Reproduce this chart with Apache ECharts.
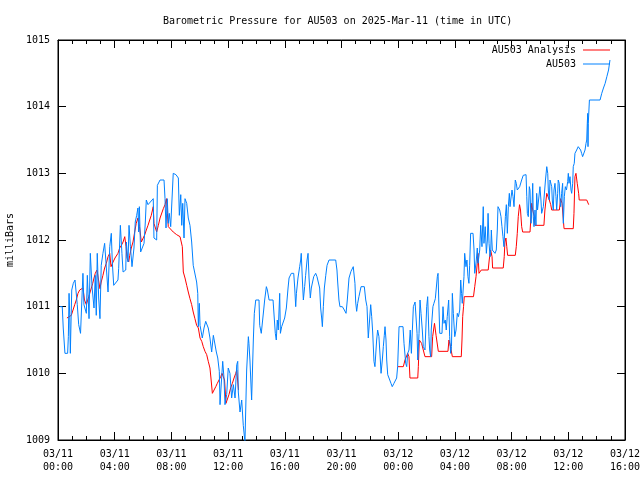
<!DOCTYPE html>
<html>
<head>
<meta charset="utf-8">
<script src="https://cdn.jsdelivr.net/npm/echarts@6/dist/echarts.min.js"></script>
<style>html,body{margin:0;padding:0;background:#fff}#c{width:640px;height:480px}</style>
</head>
<body>
<div id="c"></div>
<script>
// Hours since 2025-03-11 00:00 UTC
const xTickLabels = ['03/11\n00:00','03/11\n04:00','03/11\n08:00','03/11\n12:00','03/11\n16:00','03/11\n20:00','03/12\n00:00','03/12\n04:00','03/12\n08:00','03/12\n12:00','03/12\n16:00'];
const yTicks = [1009,1010,1011,1012,1013,1014,1015];

const blueHours = [0.14,0.30,0.37,0.49,0.68,0.73,0.78,0.83,0.87,0.97,1.08,1.20,1.29,1.36,1.46,1.59,1.76,1.83,2.00,2.07,2.19,2.28,2.40,2.54,2.63,2.70,2.77,2.87,2.96,3.05,3.17,3.29,3.41,3.53,3.65,3.76,3.83,3.93,4.23,4.28,4.40,4.51,4.59,4.78,4.82,4.94,5.01,5.11,5.22,5.36,5.45,5.55,5.64,5.69,5.74,5.83,5.95,6.07,6.16,6.23,6.35,6.49,6.72,6.77,6.96,7.01,7.20,7.48,7.55,7.62,7.71,7.78,7.85,7.95,8.13,8.32,8.49,8.56,8.66,8.73,8.80,8.89,8.96,9.08,9.19,9.31,9.43,9.54,9.78,9.86,9.90,9.97,10.02,10.09,10.18,10.30,10.42,10.51,10.60,10.72,10.84,10.96,11.08,11.17,11.27,11.38,11.43,11.50,11.62,11.71,11.78,11.90,12.01,12.13,12.25,12.37,12.49,12.61,12.68,12.72,12.84,12.96,13.07,13.19,13.31,13.43,13.47,13.54,13.66,13.78,13.85,13.95,14.18,14.23,14.34,14.51,14.58,14.70,14.77,14.89,15.17,15.33,15.40,15.47,15.54,15.64,15.69,15.78,15.99,16.11,16.23,16.30,16.46,16.63,16.70,16.77,16.82,16.93,17.05,17.12,17.16,17.24,17.31,17.40,17.47,17.57,17.64,17.71,17.80,17.87,18.04,18.18,18.27,18.46,18.53,18.60,18.65,18.72,18.79,18.89,18.98,19.12,19.59,19.68,19.73,19.82,19.89,20.06,20.20,20.32,20.41,20.53,20.67,20.83,20.90,20.95,21.00,21.07,21.14,21.23,21.38,21.61,21.71,21.80,21.89,21.96,22.06,22.13,22.20,22.29,22.36,22.48,22.55,22.64,22.74,22.79,22.88,22.95,23.02,23.07,23.14,23.19,23.26,23.35,23.49,23.58,23.70,23.77,23.89,23.96,24.06,24.34,24.41,24.53,24.60,24.67,24.76,24.85,24.93,24.97,25.07,25.19,25.28,25.33,25.38,25.47,25.54,25.61,25.70,25.77,25.89,26.01,26.08,26.17,26.22,26.29,26.33,26.45,26.52,26.62,26.69,26.76,26.81,26.86,26.93,27.09,27.16,27.23,27.32,27.39,27.46,27.56,27.63,27.70,27.76,27.82,27.89,27.99,28.08,28.17,28.25,28.34,28.41,28.47,28.52,28.60,28.64,28.69,28.78,28.85,28.92,28.99,29.04,29.11,29.28,29.35,29.40,29.51,29.58,29.63,29.75,29.82,29.91,30.00,30.05,30.14,30.22,30.29,30.34,30.41,30.48,30.53,30.57,30.64,30.69,30.83,30.92,30.99,31.04,31.16,31.25,31.32,31.39,31.46,31.56,31.63,31.70,31.77,31.84,31.89,31.94,32.03,32.10,32.17,32.26,32.33,32.40,32.50,32.57,32.71,32.82,32.95,33.02,33.07,33.11,33.18,33.25,33.30,33.37,33.44,33.49,33.53,33.58,33.65,33.72,33.77,33.83,33.88,33.95,34.00,34.07,34.12,34.24,34.32,34.39,34.48,34.55,34.59,34.66,34.71,34.83,34.87,34.94,34.99,35.06,35.13,35.18,35.25,35.29,35.36,35.41,35.46,35.53,35.60,35.65,35.72,35.79,35.87,35.96,36.00,36.05,36.12,36.19,36.24,36.31,36.35,36.42,36.47,36.59,36.70,36.77,36.87,36.94,37.01,37.06,37.11,37.18,37.25,37.30,37.34,37.37,37.39,37.41,37.49,38.24,38.36,38.48,38.60,38.72,38.84,38.94];
const blueValues = [1011.0,1011.0,1010.68,1010.3,1010.3,1010.55,1011.2,1010.85,1010.3,1011.25,1011.35,1011.4,1011.4,1011.03,1010.73,1010.6,1011.5,1011.03,1010.9,1011.47,1010.82,1011.8,1011.3,1010.98,1011.47,1010.87,1011.8,1011.13,1010.82,1011.62,1011.8,1011.95,1011.97,1011.22,1011.9,1012.1,1011.67,1011.32,1011.4,1011.57,1012.22,1011.8,1011.52,1011.55,1011.97,1011.67,1012.22,1011.9,1011.6,1011.88,1012.27,1012.37,1012.48,1012.12,1012.5,1011.82,1011.85,1011.95,1012.27,1012.6,1012.53,1012.55,1012.62,1012.03,1012.0,1012.82,1012.9,1012.9,1012.62,1012.18,1012.62,1012.25,1012.4,1012.2,1013.0,1012.98,1012.93,1012.37,1012.68,1012.22,1012.55,1012.03,1012.62,1012.55,1012.33,1012.22,1011.97,1011.62,1011.37,1011.2,1010.7,1011.05,1010.72,1010.75,1010.53,1010.68,1010.78,1010.8,1010.68,1010.53,1010.32,1010.57,1010.55,1010.32,1010.23,1010.03,1009.53,1009.78,1010.18,1009.93,1009.53,1009.68,1010.08,1010.0,1009.63,1009.83,1009.63,1010.13,1010.18,1009.72,1009.42,1009.6,1009.22,1008.97,1010.05,1010.55,1010.45,1010.2,1009.6,1010.5,1010.9,1011.1,1011.1,1010.72,1010.6,1010.95,1011.1,1011.3,1011.25,1011.1,1011.1,1010.6,1010.5,1010.8,1010.65,1011.2,1010.6,1010.7,1010.83,1010.98,1011.28,1011.43,1011.5,1011.5,1011.28,1011.0,1011.2,1011.43,1011.6,1011.7,1011.8,1011.4,1011.1,1011.3,1011.47,1011.7,1011.8,1011.43,1011.13,1011.28,1011.45,1011.5,1011.45,1011.28,1010.98,1010.83,1010.7,1011.0,1011.28,1011.47,1011.62,1011.7,1011.7,1011.55,1011.37,1011.1,1011.0,1011.0,1010.95,1010.9,1011.1,1011.43,1011.53,1011.6,1011.6,1011.35,1011.07,1010.93,1011.05,1011.15,1011.3,1011.3,1011.1,1011.0,1010.53,1010.55,1011.03,1010.85,1010.62,1010.18,1010.1,1010.5,1010.65,1010.55,1010.2,1010.0,1010.2,1010.4,1010.57,1010.7,1010.5,1010.2,1009.98,1009.93,1009.85,1009.8,1009.85,1009.88,1009.93,1010.1,1010.7,1010.7,1010.45,1010.15,1010.1,1010.3,1010.35,1010.65,1010.3,1010.5,1011.0,1011.07,1011.05,1010.6,1010.2,1010.6,1011.1,1010.9,1010.65,1010.4,1010.35,1011.0,1011.15,1010.55,1010.35,1010.25,1010.65,1011.0,1011.05,1011.12,1011.15,1011.45,1011.5,1011.1,1010.6,1010.6,1011.0,1010.75,1010.8,1010.65,1010.85,1011.1,1010.55,1010.3,1010.4,1011.2,1010.9,1010.55,1010.65,1010.9,1010.85,1010.95,1011.4,1011.2,1011.05,1011.05,1011.45,1011.8,1011.6,1011.7,1011.45,1011.35,1011.62,1012.1,1012.1,1011.85,1011.5,1011.7,1011.88,1011.65,1011.85,1012.22,1011.9,1012.5,1011.95,1012.2,1011.8,1012.0,1012.4,1011.95,1011.75,1011.85,1012.15,1011.85,1011.82,1011.8,1011.85,1012.15,1012.5,1012.45,1012.35,1012.2,1012.05,1011.9,1012.35,1012.53,1012.1,1012.5,1012.7,1012.5,1012.6,1012.75,1012.65,1012.5,1012.9,1012.85,1012.75,1012.72,1012.8,1012.9,1012.97,1013.0,1012.98,1012.65,1012.4,1012.35,1012.8,1012.75,1012.25,1012.5,1012.85,1012.35,1012.2,1012.45,1012.22,1012.7,1012.45,1012.42,1012.45,1012.8,1012.6,1012.4,1012.5,1012.5,1012.9,1013.1,1013.0,1012.75,1012.6,1012.9,1012.8,1012.6,1012.45,1012.75,1012.85,1012.65,1012.45,1012.7,1012.9,1012.85,1012.6,1012.5,1012.7,1012.85,1012.25,1012.65,1012.8,1012.75,1012.88,1013.0,1012.85,1012.95,1012.75,1012.7,1012.85,1013.1,1013.15,1013.3,1013.35,1013.4,1013.38,1013.35,1013.3,1013.25,1013.23,1013.28,1013.35,1013.45,1013.5,1013.75,1013.9,1013.4,1013.75,1014.1,1014.1,1014.2,1014.28,1014.35,1014.45,1014.55,1014.7];

const redHours = [0.63,0.94,1.18,1.29,1.41,1.53,1.64,1.76,1.87,2.00,2.17,2.31,2.45,2.54,2.63,2.75,2.86,2.96,3.05,3.17,3.29,3.41,3.53,3.65,3.74,3.84,4.02,4.23,4.35,4.47,4.59,4.71,4.80,4.87,4.99,5.06,5.17,5.29,5.41,5.52,5.64,5.75,5.88,6.00,6.12,6.23,6.35,6.47,6.58,6.72,6.77,6.96,7.08,7.20,7.43,7.55,7.65,7.72,7.78,7.90,8.13,8.37,8.61,8.73,8.77,8.84,8.96,9.08,9.19,9.31,9.43,9.54,9.66,9.78,9.90,10.02,10.14,10.25,10.37,10.49,10.60,10.72,10.79,10.89,11.01,11.13,11.24,11.36,11.48,11.57,11.75,11.85,11.94,12.06,12.18,12.30,12.42,12.54,12.61,12.73,18.0,23.96,24.36,24.48,24.67,24.76,24.83,25.38,25.42,25.49,25.65,25.77,25.89,26.36,26.43,26.56,26.67,26.83,27.51,27.58,27.69,27.82,28.45,28.50,28.55,28.61,28.66,29.31,29.40,29.49,29.58,29.63,29.70,29.86,30.35,30.42,30.52,30.62,30.66,31.41,31.48,31.53,31.60,31.66,31.72,32.26,32.33,32.40,32.47,32.56,32.63,32.71,32.78,33.30,33.35,33.42,33.49,33.58,33.65,34.28,34.35,34.48,34.59,34.66,34.76,34.83,35.37,35.46,35.56,35.65,35.70,36.35,36.40,36.47,36.54,36.63,36.73,36.77,37.30,37.44];
const redValues = [1010.83,1010.87,1011.03,1011.1,1011.2,1011.25,1011.28,1011.28,1011.1,1011.03,1011.15,1011.25,1011.35,1011.43,1011.5,1011.55,1011.4,1011.27,1011.37,1011.47,1011.58,1011.65,1011.75,1011.8,1011.6,1011.65,1011.73,1011.8,1011.88,1011.92,1011.97,1012.05,1011.9,1011.73,1011.67,1011.77,1011.88,1011.97,1012.12,1012.25,1012.33,1012.2,1011.97,1012.0,1012.08,1012.15,1012.22,1012.3,1012.37,1012.5,1012.25,1012.12,1012.22,1012.33,1012.47,1012.53,1012.62,1012.4,1012.2,1012.18,1012.12,1012.08,1012.05,1012.02,1011.9,1011.52,1011.43,1011.32,1011.22,1011.12,1011.03,1010.92,1010.82,1010.72,1010.68,1010.53,1010.48,1010.4,1010.33,1010.28,1010.18,1010.08,1009.93,1009.7,1009.75,1009.8,1009.85,1009.9,1009.95,1010.0,1009.9,1009.55,1009.57,1009.68,1009.78,1009.85,1009.93,1010.0,1010.05,1009.75,null,1010.1,1010.1,1010.2,1010.3,1010.25,1009.93,1009.93,1010.1,1010.5,1010.45,1010.35,1010.25,1010.25,1010.55,1010.75,1010.57,1010.33,1010.33,1010.5,1010.4,1010.25,1010.25,1010.5,1010.85,1011.0,1011.15,1011.15,1011.3,1011.45,1011.65,1011.8,1011.5,1011.55,1011.55,1011.7,1011.85,1011.75,1011.58,1011.58,1011.75,1011.97,1012.03,1011.9,1011.77,1011.77,1011.9,1012.1,1012.35,1012.53,1012.45,1012.2,1012.12,1012.12,1012.3,1012.55,1012.45,1012.37,1012.22,1012.22,1012.45,1012.7,1012.72,1012.6,1012.53,1012.45,1012.45,1012.62,1012.55,1012.3,1012.17,1012.17,1012.4,1012.95,1013.0,1012.85,1012.7,1012.6,1012.6,1012.53];

const zip = (xs, ys) => xs.map((x, i) => [x, ys[i]]);
const FONT = '"DejaVu Sans Mono", "Liberation Mono", monospace';

const chart = echarts.init(document.getElementById('c'), null, {renderer: 'canvas'});
const xCommon = {
  type: 'value', min: 0, max: 40, interval: 4,
  axisLine: {show: true, onZero: false, lineStyle: {color: '#000', width: 1}},
  axisTick: {show: true, inside: true, length: 8, lineStyle: {color: '#000'}},
  minorTick: {show: true, splitNumber: 4, length: 4, lineStyle: {color: '#000'}},
  splitLine: {show: false}
};
const yCommon = {
  type: 'value', min: 1009, max: 1015, interval: 1,
  axisLine: {show: true, onZero: false, lineStyle: {color: '#000', width: 1}},
  axisTick: {show: true, inside: true, length: 8, lineStyle: {color: '#000'}},
  splitLine: {show: false}
};
chart.setOption({
  animation: false,
  backgroundColor: '#fff',
  textStyle: {fontFamily: FONT},
  title: {
    text: 'Barometric Pressure for AU503 on 2025-Mar-11 (time in UTC)',
    left: 158, top: 11,
    textStyle: {fontFamily: FONT, fontSize: 10, fontWeight: 'normal', color: '#000'}
  },
  legend: {
    orient: 'vertical', right: 25, top: 40, align: 'right',
    itemWidth: 27, itemHeight: 1, itemGap: 4,
    icon: 'rect',
    data: ['AU503 Analysis', 'AU503'],
    textStyle: {fontFamily: FONT, fontSize: 10, color: '#000', padding: [0, 2, 0, 0]}
  },
  grid: {left: 58, right: 15, top: 40, bottom: 40, show: true, borderColor: '#000', borderWidth: 1, containLabel: false, outerBoundsMode: 'none'},
  xAxis: [
    Object.assign({}, xCommon, {
      position: 'bottom',
      axisLabel: {
        show: true, margin: 8, color: '#000', fontFamily: FONT, fontSize: 10, lineHeight: 13,
        formatter: v => xTickLabels[Math.round(v / 4)]
      }
    }),
    Object.assign({}, xCommon, {position: 'top', axisLabel: {show: false}})
  ],
  yAxis: [
    Object.assign({}, yCommon, {
      position: 'left',
      name: 'milliBars', nameLocation: 'middle', nameGap: 43,
      nameTextStyle: {fontFamily: FONT, fontSize: 10, color: '#000'},
      axisLabel: {show: true, margin: 8, color: '#000', fontFamily: FONT, fontSize: 10,
        formatter: v => String(yTicks[Math.round(v - 1009)])}
    }),
    Object.assign({}, yCommon, {position: 'right', axisLabel: {show: false}})
  ],
  series: [
    {
      name: 'AU503 Analysis', type: 'line', xAxisIndex: 0, yAxisIndex: 0,
      data: zip(redHours, redValues), showSymbol: false, connectNulls: false,
      lineStyle: {color: '#ff0000', width: 1}, itemStyle: {color: '#ff0000'}
    },
    {
      name: 'AU503', type: 'line', xAxisIndex: 0, yAxisIndex: 0,
      data: zip(blueHours, blueValues), showSymbol: false,
      lineStyle: {color: '#0080ff', width: 1}, itemStyle: {color: '#0080ff'}
    }
  ]
});
</script>
</body>
</html>
